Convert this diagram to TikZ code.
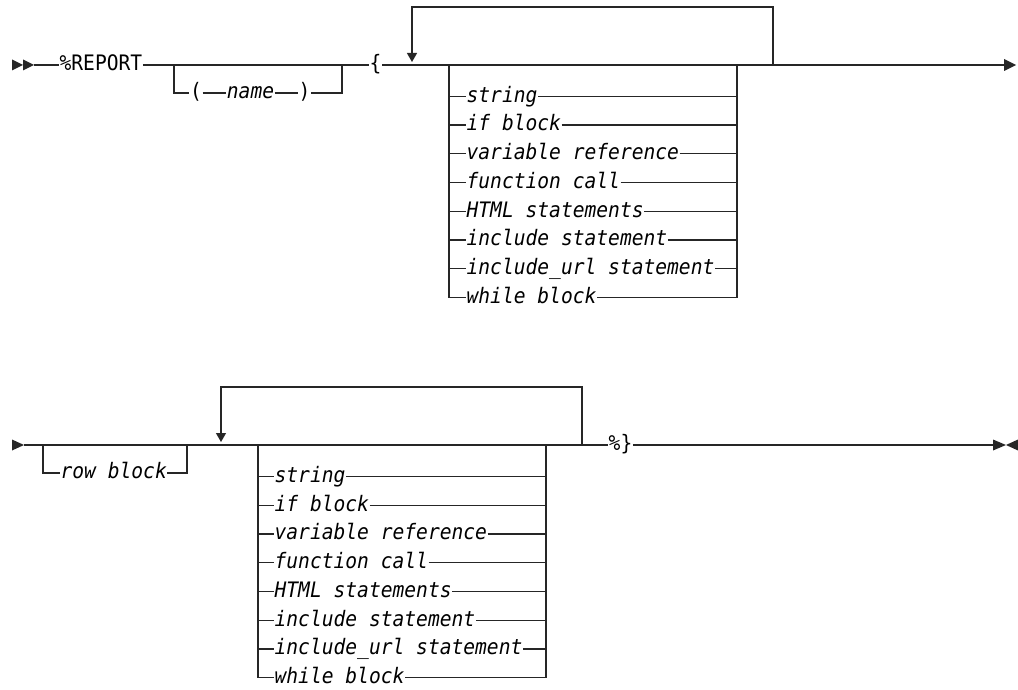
\documentclass[tikz,border=0pt]{standalone}
\usepackage{fontspec}
\usepackage{tikz}
\usetikzlibrary{arrows.meta}
\newfontfamily\synfont{DejaVu Sans Mono}[FakeStretch=0.92]

\begin{document}
\begin{tikzpicture}[x=1pt, y=-1pt, line width=1.3pt, black!85,
	every node/.style={font={\synfont\fontsize{21.3}{24}\selectfont}, inner sep=0pt, text=black},
	kw/.style={anchor=mid},
	var/.style={anchor=mid west, font={\synfont\itshape\fontsize{21.3}{24}\selectfont}},
	repeatline/.style={-{Triangle[width=10pt,length=9pt]}}]
	\synfont\fontsize{21.3}{24}\selectfont
	\useasboundingbox (0,0) rectangle (1018,690);
	% first line
	\coordinate (c0) at (34,65);
	\coordinate (j1) at (174,65);
	\coordinate (j2) at (342,65);
	\coordinate (bl1) at (449,65);
	\coordinate (br1) at (737,65);
	\coordinate (lr1) at (773,65);
	\coordinate (top1) at (600,7);
	\coordinate (la1) at (412,62);
	\coordinate (e1) at (1004,65);
	\fill (12,59.5) -- (23,65) -- (12,70.5) -- cycle;
	\fill (23,59.5) -- (34,65) -- (23,70.5) -- cycle;
	\node[anchor=mid west] (rep) at (59,65) {\%REPORT};
	\node[kw] (lp) at (196,93) {(};
	\node[var, anchor=mid] (nm) at (250.5,93) {name};
	\node[kw] (rp) at (304.5,93) {)};
	\node[kw] (lb) at (375.5,65) {\{};
	\draw (c0) -- (rep.mid west);
	\draw (rep.mid east) -- (lb.mid west);
	\draw (j1) |- (lp.mid west);
	\draw (lp.mid east) -- (nm.mid west);
	\draw (nm.mid east) -- (rp.mid west);
	\draw (rp.mid east) -| (j2);
	\draw (lb.mid east) -- (e1);
	\draw[repeatline] (lr1) |- (top1) -| (la1);
	\foreach \t [count=\i] in {string, if block, variable reference, function call, HTML statements, include statement, include\_url statement, while block} {
		\pgfmathsetmacro\yy{67.5+28.75*\i}
		\coordinate (al\i) at (449,\yy);
		\coordinate (ar\i) at (737,\yy);
		\node[var] (a\i) at (466,\yy) {\t};
		\draw (al\i) -- (a\i.mid west);
		\draw (a\i.mid east) -- (ar\i);
	}
	\draw (bl1) -- (al8);
	\draw (br1) -- (ar8);
	\fill (1004,59) -- (1016,65) -- (1004,71) -- cycle;
	% second line
	\coordinate (s2) at (24,445);
	\coordinate (r1) at (43,445);
	\coordinate (r2) at (187,445);
	\coordinate (bl2) at (258,445);
	\coordinate (br2) at (546,445);
	\coordinate (lr2) at (582,445);
	\coordinate (top2) at (400,387);
	\coordinate (la2) at (221,442);
	\coordinate (e2) at (993,445);
	\fill (12,439.5) -- (24,445) -- (12,450.5) -- cycle;
	\node[var] (rb) at (60,473) {row block};
	\node[kw] (pc) at (620.5,445) {\%\}};
	\draw (s2) -- (pc.mid west);
	\draw (pc.mid east) -- (e2);
	\draw (r1) |- (rb.mid west);
	\draw (rb.mid east) -| (r2);
	\draw[repeatline] (lr2) |- (top2) -| (la2);
	\foreach \t [count=\i] in {string, if block, variable reference, function call, HTML statements, include statement, include\_url statement, while block} {
		\pgfmathsetmacro\yy{448+28.7*\i}
		\coordinate (bll\i) at (258,\yy);
		\coordinate (brr\i) at (546,\yy);
		\node[var] (b\i) at (274,\yy) {\t};
		\draw (bll\i) -- (b\i.mid west);
		\draw (b\i.mid east) -- (brr\i);
	}
	\draw (bl2) -- (bll8);
	\draw (br2) -- (brr8);
	\fill (993,439.5) -- (1006,445) -- (993,450.5) -- cycle;
	\fill (1018,439.5) -- (1006,445) -- (1018,450.5) -- cycle;
\end{tikzpicture}
\end{document}
